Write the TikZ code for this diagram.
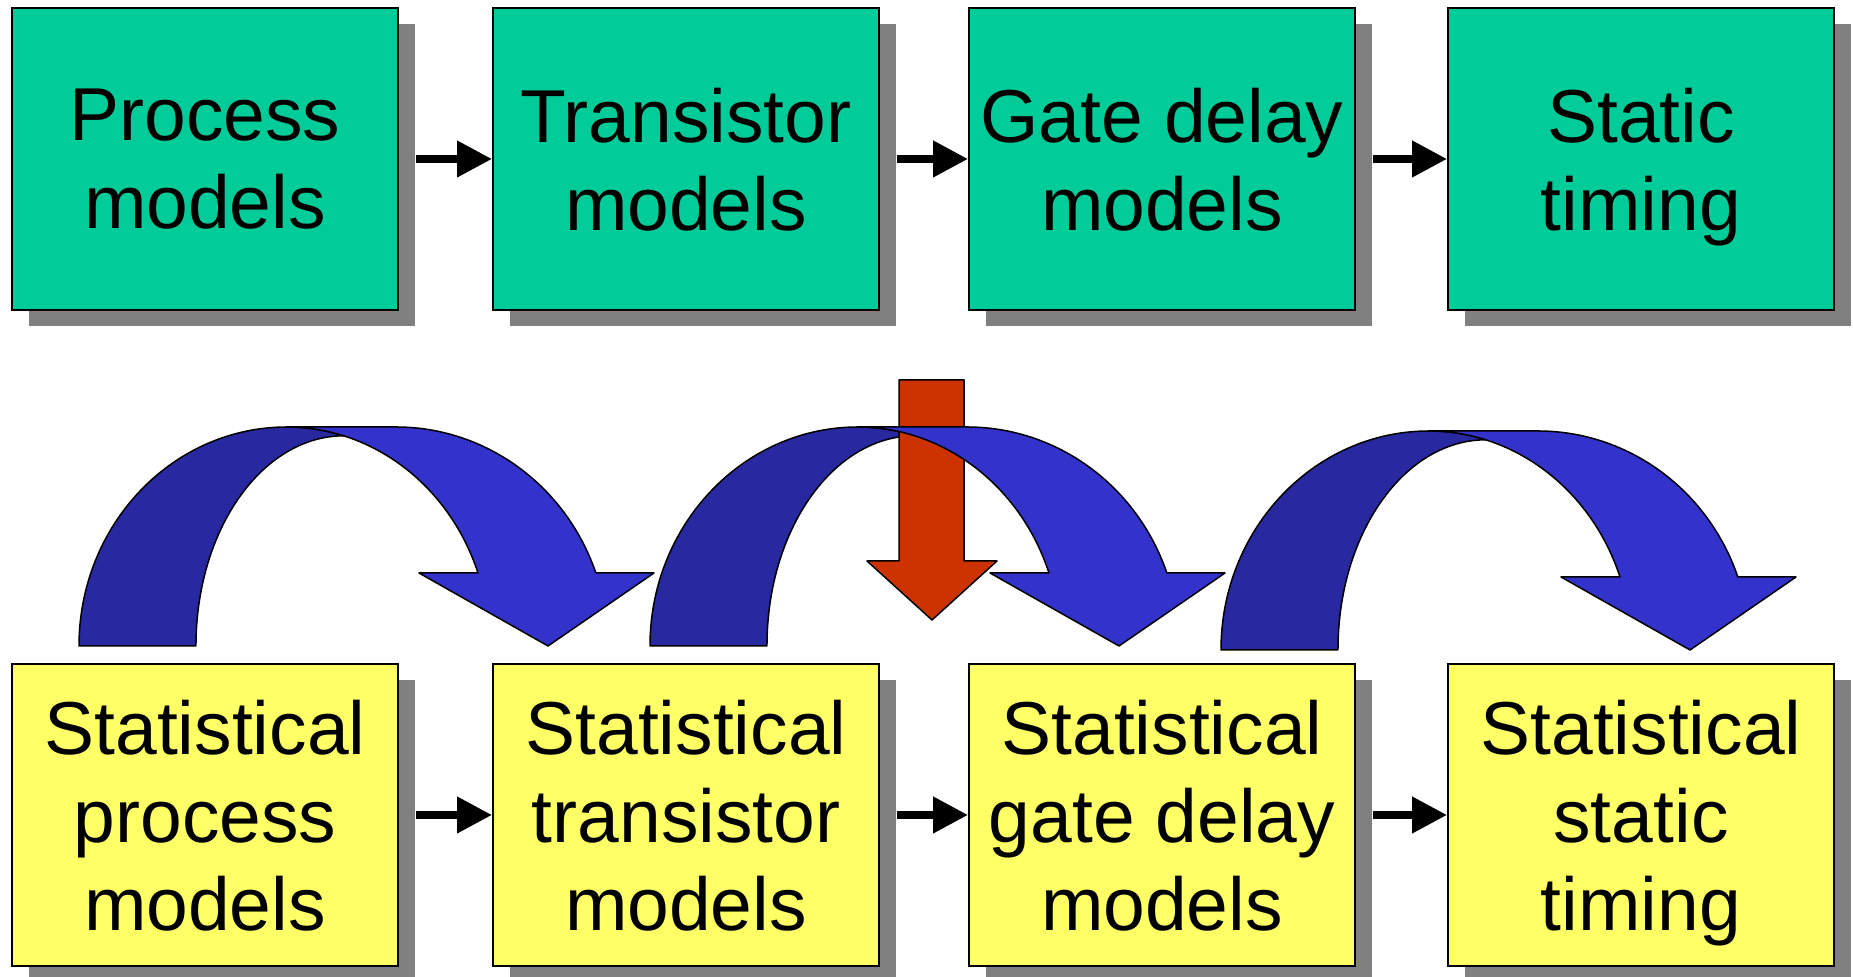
\documentclass[tikz,border=0pt]{standalone}
\usepackage{fontspec}
\setmainfont{Liberation Sans}
\usetikzlibrary{arrows.meta,shadows}
\definecolor{boxgreen}{HTML}{00CC99}
\definecolor{boxyellow}{HTML}{FFFF66}
\definecolor{shadowgray}{HTML}{808080}
\definecolor{backblue}{HTML}{2828A0}
\definecolor{frontblue}{HTML}{3333CC}
\definecolor{downred}{HTML}{CC3300}
\tikzset{
  modelbox/.style={draw, line width=1pt, minimum width=193pt, minimum height=151pt,
    inner sep=0pt, align=center, text depth=0pt, font=\fontsize{37.5}{44}\selectfont,
    drop shadow={shadow xshift=8.25pt, shadow yshift=-8.25pt, fill=shadowgray, opacity=1}},
  flow/.style={line width=3.8pt, -{Triangle[length=17.5pt,width=17.5pt]}},
  ribbon/.style={draw, line width=0.75pt, line join=round}
}
\begin{document}
\begin{tikzpicture}[x=0.5pt,y=0.5pt]
\useasboundingbox (0,0) rectangle (1853,977);
% model chain (top) and statistical chain (bottom)
\foreach \n/\x/\txt in {proc/205/Process\\models, trans/686/Transistor\\models,
    gate/1162/Gate delay\\models, sta/1641/Static\\timing}
  \node[modelbox, fill=boxgreen] (\n) at (\x,818) {\txt};
\foreach \n/\x/\txt in {sproc/205/Statistical\\process\\models, strans/686/Statistical\\transistor\\models,
    sgate/1162/Statistical\\gate delay\\models, ssta/1641/Statistical\\static\\timing}
  \node[modelbox, fill=boxyellow] (\n) at (\x,162) {\txt};
\foreach \a/\b in {proc/trans, trans/gate, gate/sta, sproc/strans, strans/sgate, sgate/ssta}
  \draw[flow] ([xshift=8.25pt]\a.east) -- (\b.west);
% curved arrows: back half first
\foreach \dx/\dy in {0/0, 571/0, 1142/-4}
  \filldraw[ribbon, fill=backblue, shift={(\dx,\dy)}] (79,331)
    arc[start angle=180, end angle=90, x radius=208, y radius=219]
    arc[start angle=90, end angle=73.7, x radius=203, y radius=219]
    arc[start angle=90, end angle=180, x radius=148, y radius=210] -- cycle;
% down arrow
\filldraw[ribbon, fill=downred] (899,597) -- (964,597) -- (964,416) -- (997,416)
  -- (932,357) -- (867,416) -- (899,416) -- cycle;
% curved arrows: front half
\foreach \dx/\dy in {0/0, 571/0, 1142/-4}
  \filldraw[ribbon, fill=frontblue, shift={(\dx,\dy)}] (287,550) -- (396,550)
    arc[start angle=90, end angle=19.47, x radius=212, y radius=219]
    -- (654,404) -- (548,331) -- (419,404) -- (478,404)
    arc[start angle=19.47, end angle=90, x radius=203, y radius=219] -- cycle;
\end{tikzpicture}
\end{document}
